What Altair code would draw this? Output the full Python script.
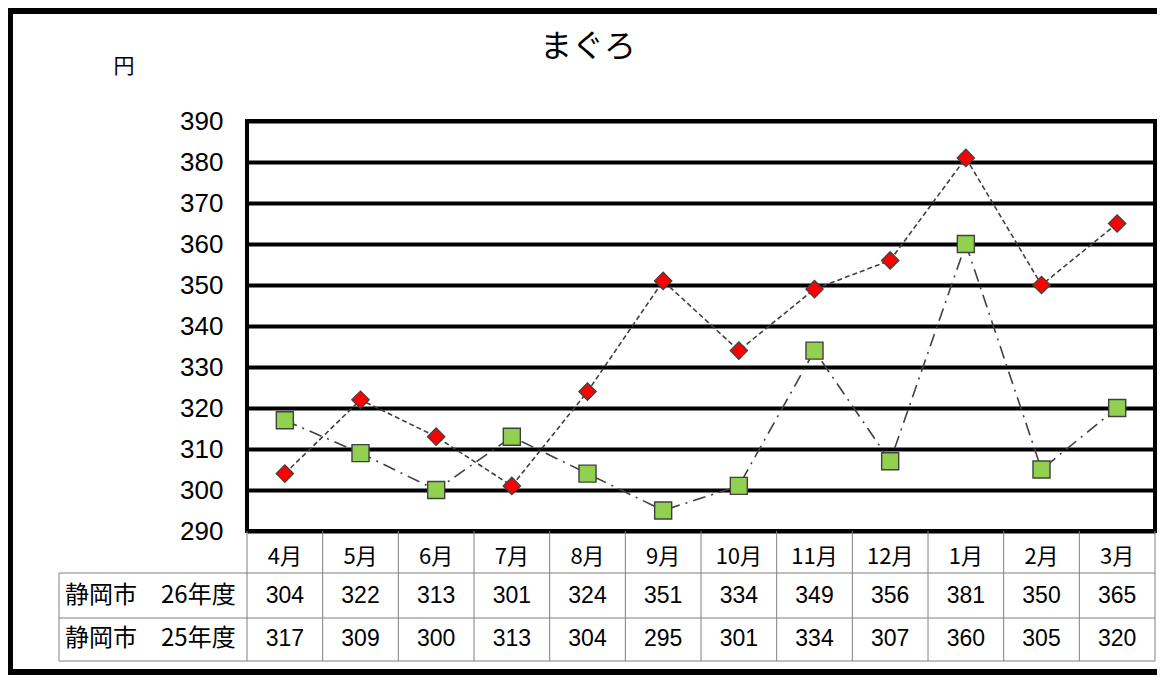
import altair as alt
import pandas as pd

# ---- data ----
months = ["4月", "5月", "6月", "7月", "8月", "9月", "10月", "11月", "12月", "1月", "2月", "3月"]
fy26 = [304, 322, 313, 301, 324, 351, 334, 349, 356, 381, 350, 365]
fy25 = [317, 309, 300, 313, 304, 295, 301, 334, 307, 360, 305, 320]
series_names = ["静岡市　26年度", "静岡市　25年度"]
y_ticks = [290, 300, 310, 320, 330, 340, 350, 360, 370, 380, 390]
title_text = "まぐろ"
unit_text = "円"

W, H = 908, 410
LEFT = 239
JP = "Noto Sans CJK JP"
NUM = "Liberation Sans"
GRAY = "#808080"
DARK = "#404040"

df = pd.DataFrame({
    "month": months * 2,
    "value": fy26 + fy25,
    "series": [series_names[0]] * len(months) + [series_names[1]] * len(months),
})
d26 = df[df.series == series_names[0]]
d25 = df[df.series == series_names[1]]
mdf = pd.DataFrame({"month": months})
one = pd.DataFrame({"k": [0]})

xsc = alt.Scale(domain=months, paddingInner=0, paddingOuter=0)
ysc = alt.Scale(domain=[290, 390], nice=False, zero=False)
X = alt.X("month:N", scale=xsc, sort=months, axis=None)
Y = alt.Y("value:Q", scale=ysc, axis=alt.Axis(
    values=y_ticks, grid=True, gridColor="black", gridWidth=4,
    domain=False, ticks=False, labelFont=NUM, labelFontSize=26,
    labelColor="black", labelPadding=24, title=None))

line26 = alt.Chart(d26).mark_line(color=DARK, strokeWidth=1.6, strokeDash=[5, 3]).encode(x=X, y=Y)
line25 = alt.Chart(d25).mark_line(color=DARK, strokeWidth=1.6, strokeDash=[13, 6, 2, 6]).encode(x=X, y=Y)
pts25 = alt.Chart(d25).mark_point(shape="square", filled=True, fill="#92D050", stroke=DARK,
                                  strokeWidth=1.4, size=290, opacity=1).encode(x=X, y=Y)
pts26 = alt.Chart(d26).mark_point(shape="diamond", filled=True, fill="#FF0000", stroke=DARK,
                                  strokeWidth=1.3, size=300, opacity=1).encode(x=X, y=Y)

# ---- data table under the plot ----
vlines = alt.Chart(mdf).mark_rule(color=GRAY, strokeWidth=1).encode(
    x=alt.X("month:N", scale=xsc, sort=months, axis=None, bandPosition=0),
    y=alt.value(H), y2=alt.value(540))
vline_end = alt.Chart(mdf.tail(1)).mark_rule(color=GRAY, strokeWidth=1).encode(
    x=alt.X("month:N", scale=xsc, sort=months, axis=None, bandPosition=1),
    y=alt.value(H), y2=alt.value(540))
vline_left = alt.Chart(one).mark_rule(color=GRAY, strokeWidth=1).encode(
    x=alt.value(-188), y=alt.value(452), y2=alt.value(540))
hlines = [alt.Chart(one).mark_rule(color=GRAY, strokeWidth=1).encode(
    x=alt.value(-188), x2=alt.value(W), y=alt.value(yy)) for yy in (452, 497, 540)]

month_txt = alt.Chart(mdf).mark_text(font=JP, fontSize=22, color="black", baseline="middle").encode(
    x=X, y=alt.value(436), text="month:N")
row26 = alt.Chart(d26).mark_text(font=NUM, fontSize=23, color="black", baseline="middle").encode(
    x=X, y=alt.value(475), text="value:Q")
row25 = alt.Chart(d25).mark_text(font=NUM, fontSize=23, color="black", baseline="middle").encode(
    x=X, y=alt.value(518), text="value:Q")
lab26 = alt.Chart(pd.DataFrame({"t": [series_names[0]]})).mark_text(
    font=JP, fontSize=24, color="black", align="left", baseline="middle").encode(
    x=alt.value(-182), y=alt.value(475), text="t:N")
lab25 = alt.Chart(pd.DataFrame({"t": [series_names[1]]})).mark_text(
    font=JP, fontSize=24, color="black", align="left", baseline="middle").encode(
    x=alt.value(-182), y=alt.value(518), text="t:N")

title = alt.Chart(pd.DataFrame({"t": [title_text]})).mark_text(
    font=JP, fontSize=32, color="black", baseline="middle").encode(
    x=alt.value(341), y=alt.value(-74), text="t:N")
unit = alt.Chart(pd.DataFrame({"t": [unit_text]})).mark_text(
    font=JP, fontSize=21, color="black", baseline="middle").encode(
    x=alt.value(-123), y=alt.value(-54), text="t:N")

border = alt.Chart(one).mark_rect(fillOpacity=0, stroke="black", strokeWidth=6).encode(
    x=alt.value(-LEFT + 2), x2=alt.value(W + 30), y=alt.value(-110), y2=alt.value(551))

chart = alt.layer(
    border, line26, line25, pts25, pts26,
    vlines, vline_end, vline_left, *hlines,
    month_txt, row26, row25, lab26, lab25, title, unit,
).properties(
    width=W, height=H,
    autosize=alt.AutoSizeParams(type="none"),
    padding={"left": LEFT, "top": 113, "right": 2, "bottom": 144},
    background="white",
).configure_view(stroke="black", strokeWidth=4)

chart.save("out.html", embed_options={"renderer": "svg", "actions": False})
